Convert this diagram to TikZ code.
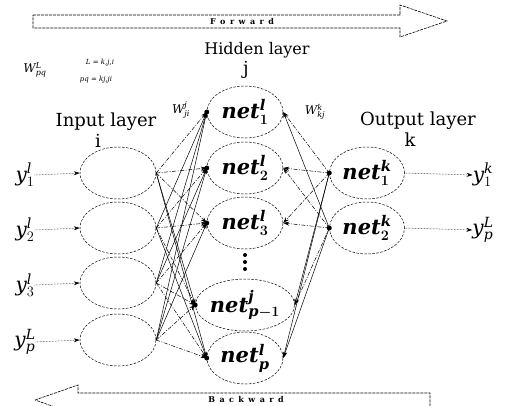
\documentclass[tikz,border=0pt]{standalone}
\usepackage{fontspec}
\setmainfont{DejaVu Serif}
\usetikzlibrary{shapes.geometric,arrows.meta}
\begin{document}
\begin{tikzpicture}[x=1pt,y=-1pt,
  neuron/.style={ellipse,draw,dash pattern=on 2.5pt off 1.5pt,line width=0.5pt,
    minimum width=76pt,minimum height=52pt,inner sep=0pt,
    font=\fontsize{21}{24}\selectfont\bfseries\itshape\boldmath},
  lab/.style={font=\fontsize{18}{20}\selectfont,inner sep=0pt},
  ylab/.style={font=\fontsize{20}{22}\selectfont,inner sep=0pt},
  wlab/.style={font=\fontsize{12}{14}\selectfont,inner sep=0pt},
  tiny/.style={font=\fontsize{7}{8}\selectfont\itshape,inner sep=0pt},
  conn/.style={line width=0.5pt,-{Stealth[length=6pt,width=4pt]}},
  c0/.style={dash pattern=on 4pt off 1.5pt on 1pt off 1.5pt},
  c1/.style={solid},
  io/.style={line width=0.5pt,densely dotted,-{Stealth[length=6pt,width=4pt]}},
  bigarrow/.style={line width=0.6pt,dash pattern=on 3pt off 1pt},
  arrtext/.style={font=\fontsize{8}{9}\selectfont\bfseries,inner sep=0pt},
  dot/.style={circle,fill,inner sep=0pt,minimum size=5pt}]
\useasboundingbox (0,0) rectangle (505,405);

% big arrows
\draw[bigarrow] (33,15) -- (400,15) -- (400,5) -- (447,21) -- (400,37) -- (400,28) -- (33,28) -- cycle;
\node[arrtext] (fw) at (242,22) {F\;\;o\;\;r\;\;w\;\;a\;\;r\;\;d};
\draw[bigarrow] (35,400) -- (78,385) -- (78,393) -- (430,393) -- (430,407) -- (78,407) -- (78,415) -- cycle;
\node[arrtext] (bw) at (246,400) {B\;\;a\;\;c\;\;k\;\;w\;\;a\;\;r\;\;d};

% top-left formula
\node[wlab] (wf) at (35,70) {$\mathit{W}^{\mathit{L}}_{\mathit{pq}}$};
\node[tiny] (wf1) at (100,63) {L = k,j,i};
\node[tiny] (wf2) at (96,80) {pq = kj,ji};

% layer labels
\node[lab] (il) at (106,122) {Input layer};
\node[lab] (ii) at (98,141) {i};
\node[lab,font=\fontsize{16}{18}\selectfont] (hl) at (257,50) {Hidden layer};
\node[lab] (hj) at (246,70) {j};
\node[lab] (ol) at (418,121) {Output layer};
\node[lab] (ok) at (410,140) {k};

% input neurons
\node[neuron] (in1) at (118,173) {};
\node[neuron] (in2) at (118,228) {};
\node[neuron] (in3) at (118,283) {};
\node[neuron] (in4) at (118,340) {};

% hidden neurons
\node[neuron] (h1) at (245,112) {net$^{\mathit{l}}_{1}$};
\node[neuron] (h2) at (245,168) {net$^{\mathit{l}}_{2}$};
\node[neuron] (h3) at (245,223) {net$^{\mathit{l}}_{3}$};
\node[neuron] (h4) at (245,305) {net$^{\mathit{j}}_{\mathit{p}-1}$};
\node[neuron] (h5) at (245,358) {net$^{\mathit{l}}_{\mathit{p}}$};
\fill (245,255) circle (2pt) (245,262) circle (2pt) (245,269) circle (2pt);

% output neurons
\node[neuron,minimum width=75pt] (o1) at (367,173) {net$^{\mathit{k}}_{1}$};
\node[neuron,minimum width=75pt] (o2) at (367,228) {net$^{\mathit{k}}_{2}$};

% weight labels
\node[wlab] (wji) at (181,110) {$\mathit{W}^{\mathit{j}}_{\mathit{ji}}$};
\node[wlab] (wkj) at (315,112) {$\mathit{W}^{\mathit{k}}_{\mathit{kj}}$};

% input -> hidden
\foreach \i/\yi in {1/173,2/228,3/283,4/340}
  \foreach \j/\yj in {1/112,2/168,3/223,4/305,5/358}{
    \pgfmathtruncatemacro\solidq{abs(\yi-\yj)>80}
    \draw[conn,c\solidq] (in\i.east) -- (h\j.west);
  }
\foreach \j in {1,...,5} \node[dot] (d\j) at (h\j.west) {};

% output -> hidden
\foreach \k/\yk in {1/173,2/228}
  \foreach \j/\yj in {1/112,2/168,3/223,4/305,5/358}{
    \pgfmathtruncatemacro\solidq{abs(\yk-\yj)>80}
    \draw[conn,c\solidq] (o\k.west) -- (h\j.east);
  }
\node[dot] (e1) at (o1.west) {};
\node[dot] (e2) at (o2.west) {};

% inputs
\node[ylab] (y1) at (25,175) {$\mathit{y}^{\mathit{l}}_{1}$};
\node[ylab] (y2) at (25,230) {$\mathit{y}^{\mathit{l}}_{2}$};
\node[ylab] (y3) at (25,285) {$\mathit{y}^{\mathit{l}}_{3}$};
\node[ylab] (y4) at (25,342) {$\mathit{y}^{\mathit{L}}_{\mathit{p}}$};
\foreach \i in {1,...,4} \draw[io] (y\i.east) -- (in\i.west);

% outputs
\node[ylab] (z1) at (483,175) {$\mathit{y}^{\mathit{k}}_{1}$};
\node[ylab] (z2) at (483,230) {$\mathit{y}^{\mathit{L}}_{\mathit{p}}$};
\draw[io] (o1.east) -- (z1.west);
\draw[io] (o2.east) -- (z2.west);
\end{tikzpicture}
\end{document}
